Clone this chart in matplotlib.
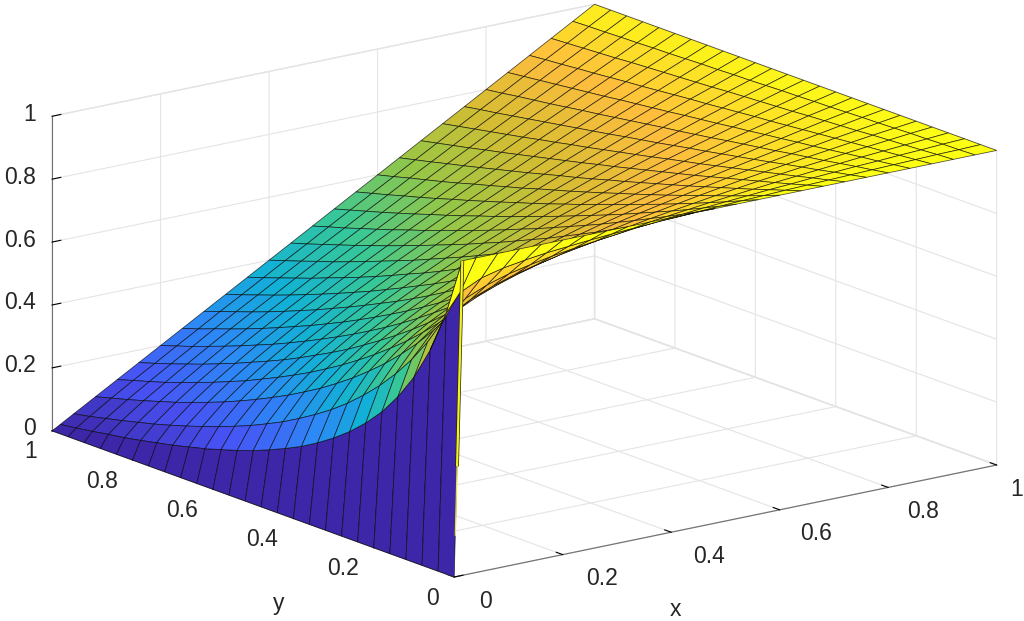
import numpy as np
import matplotlib
matplotlib.use("Agg")
import matplotlib.pyplot as plt
from matplotlib.colors import LinearSegmentedColormap
from matplotlib.transforms import IdentityTransform
from mpl_toolkits.mplot3d import proj3d

plt.rcParams['font.family'] = ['Liberation Sans', 'DejaVu Sans']

# Surface heights (edges, fold and colours), on a
# coarser mesh than the reference. One list per x value, from y = 0 to y = 1.
x_vals = [0, .015, .04, .08, .12, .16, .20, .24, .28, .32, .36, .40, .44, .48,
          .52, .56, .60, .64, .68, .72, .76, .80, .84, .88, .92, .96, 1]
y_vals = [0, .04, .08, .12, .16, .20, .24, .28, .32, .36, .40, .44, .48, .52,
          .56, .60, .64, .68, .72, .76, .80, .84, .88, .92, .96, 1]
z_by_x = [
 [0]*26,
 [1,.815,.679,.575,.494,.427,.373,.327,.288,.254,.224,.199,.176,.155,.137,.121,.105,.092,.079,.068,.057,.047,.039,.030,.022,.015],
 [1,.871,.766,.677,.602,.538,.482,.433,.389,.350,.316,.285,.256,.231,.207,.186,.166,.148,.131,.115,.100,.087,.074,.062,.050,.04],
 [1,.904,.820,.746,.680,.621,.568,.520,.477,.437,.401,.367,.337,.308,.282,.257,.234,.212,.192,.173,.155,.139,.123,.108,.094,.08],
 [1,.921,.849,.785,.726,.672,.623,.577,.536,.497,.461,.427,.396,.366,.339,.313,.289,.265,.244,.223,.204,.185,.167,.151,.136,.12],
 [1,.932,.870,.812,.759,.710,.664,.621,.581,.544,.509,.476,.444,.415,.388,.361,.336,.313,.291,.269,.249,.229,.211,.193,.176,.16],
 [1,.941,.885,.834,.785,.740,.697,.657,.620,.584,.550,.518,.488,.459,.432,.406,.381,.357,.334,.313,.292,.272,.253,.234,.217,.20],
 [1,.947,.898,.851,.807,.765,.726,.688,.653,.619,.587,.556,.527,.499,.472,.446,.422,.398,.376,.354,.333,.313,.294,.276,.257,.24],
 [1,.953,.908,.866,.825,.787,.750,.715,.682,.650,.620,.590,.562,.535,.510,.485,.461,.438,.415,.394,.373,.353,.334,.316,.298,.28],
 [1,.958,.917,.879,.842,.806,.772,.740,.709,.679,.650,.622,.595,.570,.545,.521,.497,.475,.453,.432,.412,.392,.373,.355,.337,.32],
 [1,.962,.925,.890,.857,.824,.793,.762,.733,.705,.678,.652,.627,.602,.578,.556,.533,.511,.490,.470,.451,.431,.413,.395,.377,.36],
 [1,.966,.933,.901,.870,.840,.811,.783,.756,.730,.705,.680,.656,.633,.611,.589,.567,.547,.527,.507,.488,.469,.452,.434,.417,.40],
 [1,.969,.939,.910,.882,.855,.828,.803,.778,.753,.730,.707,.684,.663,.641,.621,.601,.581,.562,.543,.525,.507,.490,.473,.456,.44],
 [1,.972,.945,.919,.894,.869,.845,.821,.798,.776,.754,.732,.712,.691,.671,.652,.633,.615,.596,.579,.561,.544,.528,.511,.496,.48],
 [1,.975,.951,.927,.904,.882,.860,.838,.817,.797,.777,.757,.738,.719,.700,.682,.665,.647,.630,.614,.597,.581,.565,.550,.535,.52],
 [1,.978,.956,.935,.914,.894,.874,.855,.836,.817,.799,.780,.763,.745,.728,.712,.695,.679,.663,.648,.632,.617,.603,.588,.574,.56],
 [1,.980,.961,.942,.924,.906,.888,.870,.853,.836,.820,.803,.787,.771,.756,.741,.725,.711,.696,.682,.667,.653,.640,.627,.613,.60],
 [1,.983,.966,.949,.933,.917,.901,.885,.870,.855,.840,.825,.811,.796,.782,.769,.755,.741,.728,.715,.702,.689,.677,.664,.652,.64],
 [1,.985,.970,.956,.942,.928,.914,.900,.886,.873,.860,.847,.834,.821,.809,.796,.784,.772,.760,.748,.736,.725,.713,.702,.691,.68],
 [1,.987,.975,.962,.950,.938,.926,.914,.902,.890,.879,.868,.856,.845,.834,.823,.812,.802,.791,.781,.770,.760,.750,.740,.730,.72],
 [1,.989,.979,.968,.958,.948,.937,.927,.917,.907,.897,.888,.878,.868,.859,.850,.840,.831,.822,.813,.804,.795,.786,.777,.769,.76],
 [1,.991,.983,.974,.965,.957,.949,.940,.932,.924,.916,.907,.899,.891,.884,.876,.868,.860,.852,.845,.837,.829,.822,.815,.807,.80],
 [1,.993,.986,.980,.973,.966,.959,.953,.946,.940,.933,.927,.920,.914,.908,.901,.895,.889,.883,.876,.870,.864,.858,.852,.846,.84],
 [1,.995,.990,.985,.980,.975,.970,.965,.960,.955,.950,.946,.941,.936,.931,.927,.922,.917,.912,.908,.903,.898,.894,.889,.885,.88],
 [1,.997,.993,.990,.987,.984,.980,.977,.974,.971,.967,.964,.961,.958,.955,.951,.948,.945,.942,.939,.936,.932,.929,.926,.923,.92],
 [1,.998,.997,.995,.994,.992,.990,.989,.987,.985,.984,.982,.981,.979,.977,.976,.974,.973,.971,.969,.968,.966,.965,.963,.962,.96],
 [1]*26,
]
strip_x = [.0053, .015]
strip_y = [0, 0]
strip_z = [.35, 1]
strip_low_x = [.002, .0053]
strip_low_z = [.13, .35]

x_ticks = [0, .2, .4, .6, .8, 1]
y_ticks = [0, .2, .4, .6, .8, 1]
z_ticks = [0, .2, .4, .6, .8, 1]
tick_labels = ['0', '0.2', '0.4', '0.6', '0.8', '1']

parula = LinearSegmentedColormap.from_list('parula', [
    (0.0, (.2422, .1504, .6603)), (.125, (.2810, .3228, .9579)),
    (.25, (.1786, .5289, .9682)), (.375, (.0689, .6948, .8394)),
    (.5, (.2161, .7843, .5923)), (.625, (.5800, .7800, .2800)),
    (.75, (.8300, .7400, .2000)), (.875, (.9970, .7400, .2400)),
    (1.0, (.9900, .9950, .0800))])

X, Y = np.meshgrid(x_vals, y_vals)
Z = np.array(z_by_x, dtype=float).T

fig = plt.figure(figsize=(10.24, 6.21), dpi=100)
L = 1100
ax = fig.add_axes([-40.5/1024, -234.5/621, L/1024, L/621], projection='3d')
ax.set_proj_type('ortho')
ax.view_init(elev=15.9, azim=-127)
ax.set_box_aspect((679, 668, 327), zoom=.889)
ax.computed_zorder = False
ax.set_xlim(0, 1); ax.set_ylim(0, 1); ax.set_zlim(0, 1)
ax.patch.set_visible(False)

ax.plot_surface(X, Y, Z, rstride=1, cstride=1, facecolors=parula(Z), shade=False,
                edgecolor=(0, 0, 0, .7), linewidth=.55, zorder=2)
ax.plot(strip_x, strip_y, strip_z, color='#222200', lw=2.6, zorder=3, solid_capstyle='butt')
ax.plot(strip_x, strip_y, strip_z, color='#f5f020', lw=1.6, zorder=4, solid_capstyle='butt')
ax.plot(strip_low_x, strip_y, strip_low_z, color='#e8e040', lw=.9, zorder=4, solid_capstyle='butt')

for axis, ticks in ((ax.xaxis, x_ticks), (ax.yaxis, y_ticks), (ax.zaxis, z_ticks)):
    axis.set_ticks(ticks)
    axis.set_ticklabels([''] * len(ticks))
    axis.set_pane_color((1, 1, 1, 1))
    axis.pane.set_edgecolor('#e4e4e4')
    axis.line.set_color('#707070')
    axis.line.set_linewidth(.8)
    axis._axinfo['grid'].update(color='#e4e4e4', linewidth=.8)
    axis._axinfo['tick'].update(inward_factor=0, outward_factor=.2, color='#707070',
                                linewidth={True: .8, False: .5})

ax.apply_aspect()
M = ax.get_proj()


def to_px(x, y, z):
    u, v, _ = proj3d.proj_transform(x, y, z, M)
    return ax.transData.transform((u, v))


style = dict(fontsize=16.5, color='#262626', transform=IdentityTransform(), va='center')
for v, s in zip(x_ticks, tick_labels):
    p = to_px(v, 0, 0)
    shift = 25 - 8 * v if v < 1 else 14
    fig.text(p[0] + shift, p[1] - 24, s, ha='left', **style)
for v, s in zip(y_ticks, tick_labels):
    p = to_px(0, v, 0)
    fig.text(p[0] - 15, p[1] - 21, s, ha='right', **style)
for v, s in zip(z_ticks, tick_labels):
    p = to_px(0, 1, v)
    fig.text(p[0] - 16, p[1] + 2, s, ha='right', **style)
p = to_px(.5, 0, 0)
fig.text(p[0] - 50, p[1] - 88, 'x', ha='center', **style)
p = to_px(0, .5, 0)
fig.text(p[0] + 26, p[1] - 100, 'y', ha='center', **style)

fig.savefig('out.png', dpi=100)
